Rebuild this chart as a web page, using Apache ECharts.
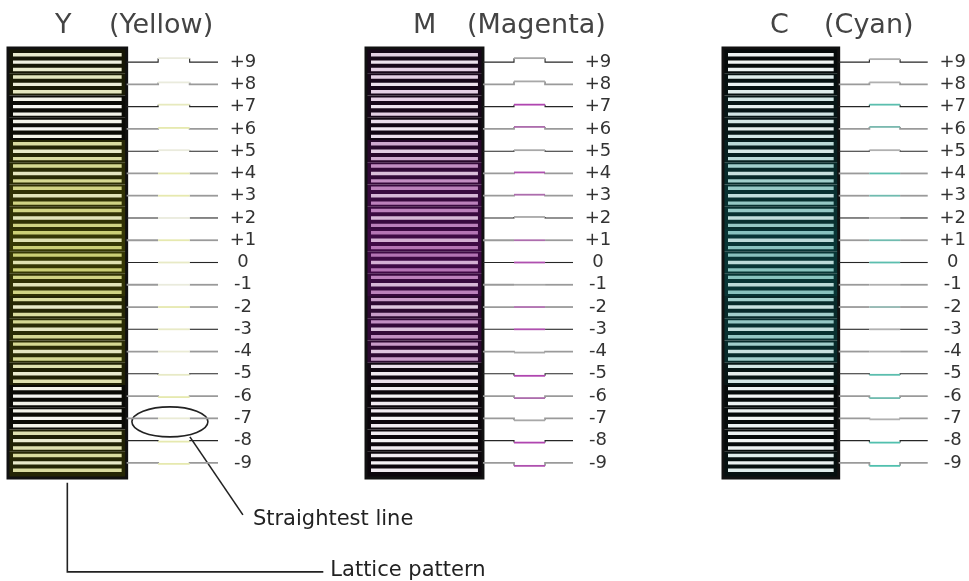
<!DOCTYPE html>
<html>
<head>
<meta charset="utf-8">
<title>Color registration chart</title>
<script src="https://cdn.jsdelivr.net/npm/echarts@6/dist/echarts.min.js"></script>
<style>
html,body{margin:0;padding:0;background:#fff;}
#main{width:969px;height:581px;}
</style>
</head>
<body>
<div id="main"></div>
<script>
// tick labels, top to bottom
var levels = ['+9','+8','+7','+6','+5','+4','+3','+2','+1','0','-1','-2','-3','-4','-5','-6','-7','-8','-9'];
var panelKeys = ['Y','M','C'];
var panelNames = ['(Yellow)','(Magenta)','(Cyan)'];

// ink strength seen in the lattice at each level (0 = black/white only)
var yLattice = [0.3,0.4,0.1,0.1,0.6,0.7,0.8,0.8,0.9,0.9,0.8,0.6,0.7,0.7,0.5,0.1,0.1,0.5,0.6];
var mLattice = [0.3,0.3,0.3,0.2,0.6,0.8,0.9,0.9,1.0,1.0,0.9,0.7,0.8,0.7,0.2,0.1,0.1,0.1,0.1];
var cLattice = [0.1,0.2,0.3,0.3,0.5,0.7,0.8,0.8,0.9,0.9,0.9,0.7,0.8,0.7,0.3,0.1,0.1,0.1,0.2];

// ink strength of the middle piece of each line
var yMidInk = [0.2,0.2,0.6,0.8,0.2,0.8,0.8,0.2,0.8,0.5,0.2,0.8,0.5,0.3,0.5,0.8,0.3,0.8,0.8];
var mMidInk = [0,0,1,0.6,0,0.9,0.6,0,0.6,0.9,0,0.6,0.9,0,1,0.6,0,1,0.9];
var cMidInk = [0,0,0.8,0.5,0,0.8,0.6,0,0.6,0.8,0,0.3,0,0,0.8,0.6,0,0.9,0.9];

// offset of the middle piece (dots, + = up)
var yShift = [4,2,2,1,1,0,0,0,0,0,0,0,0,0,-1,-1,0,-1,-1];
var mShift = [4,3,2,2,1,1,1,1,0,0,0,0,0,-1,-2,-2,-2,-2,-3];
var cShift = [3,2,2,2,1,0,0,0,0,0,0,0,0,0,-1,-2,-1,-2,-3];

// outer line tone (0 dark, 1 gray)
var lineTone = [0,1,0,1,0,1,1,0,1,0,1,1,0,1,0,1,1,0,1];

var straightestY = '-7';
var noteStraight = 'Straightest line';
var noteLattice = 'Lattice pattern';

var FONT = 'DejaVu Sans';
var LAT_END = 56.5, MID_START = 71.5, MID_END = 86.5;
var panelLeft = [8, 366, 723];
var panelWidth = [210, 207, 207];
var gridTop = 51, gridHeight = 423;

var inkStyle = [
    {light:'#c6ca66', dark:'#3a3c04', line:'#e4e8a0', neutral:'#ececec'},
    {light:'#b474b4', dark:'#3e0a44', line:'#b046b0', neutral:'#a8a8a8'},
    {light:'#7cbcb8', dark:'#083a3a', line:'#46c2ae', neutral:'#b0b0b0'}
];
var latticeSets = [yLattice, mLattice, cLattice];
var midSets = [yMidInk, mMidInk, cMidInk];
var shiftSets = [yShift, mShift, cShift];

function hexRgb(h){
    return [parseInt(h.substr(1,2),16), parseInt(h.substr(3,2),16), parseInt(h.substr(5,2),16)];
}
function mix(a, b, t){
    var x = hexRgb(a), y = hexRgb(b);
    return 'rgb(' + [0,1,2].map(function(k){ return Math.round(x[k] + (y[k]-x[k])*t); }).join(',') + ')';
}

// 网格图案
function latticeItem(ink){
    return function(params, api){
        var idx = api.value(1), t = api.value(2);
        var l = api.coord([0, idx]);
        var r = api.coord([LAT_END, idx]);
        var h = api.size([0, 1])[1];
        var top = l[1] - h/2;
        var w = r[0] - l[0];
        var dark = mix('#060606', ink.dark, t);
        var light = mix('#f8f8f8', ink.light, t);
        var extTop = idx === 0 ? 3 : 0;
        var extBot = idx === levels.length-1 ? 4 : 0;
        var children = [];
        children.push({type:'rect', shape:{x:l[0], y:top-extTop, width:w, height:h+extTop+extBot}, style:{fill:dark}});
        for (var s = 0; s < 3; s++){
            var sy = top + h*(s+0.5)/3 - 1.7;
            var c = s === 1 ? mix('#f8f8f8', ink.light, t*0.55) : light;
            children.push({type:'rect', shape:{x:l[0]+5, y:sy, width:w-10, height:3.4}, style:{fill:c}});
        }
        if (idx === levels.length-1){
            var first = api.coord([0, 0]);
            var y0 = first[1] - h/2 - 3;
            children.push({type:'rect', shape:{x:l[0], y:y0, width:w, height:l[1]+h/2+4-y0},
                style:{fill:null, stroke:'#111', lineWidth:3}});
        }
        return {type:'group', children:children};
    };
}

// 刻度线
function lineItem(ink){
    return function(params, api){
        var idx = api.value(1), shift = api.value(2), midInk = api.value(3), tone = api.value(4);
        var p0 = api.coord([LAT_END, idx]), p1 = api.coord([MID_START, idx]);
        var p2 = api.coord([MID_END, idx]), p3 = api.coord([100, idx]);
        var y = p0[1], ym = y - shift;
        var outer = tone ? '#9a9a9a' : '#262626';
        var lw = tone ? 1.8 : 1.1;
        var mid = mix(ink.neutral, ink.line, midInk);
        return {type:'group', children:[
            {type:'polyline', shape:{points:[[p0[0],y],[p1[0],y],[p1[0],ym]]}, style:{stroke:outer, lineWidth:lw, fill:null}},
            {type:'polyline', shape:{points:[[p2[0],ym],[p2[0],y],[p3[0],y]]}, style:{stroke:outer, lineWidth:lw, fill:null}},
            {type:'line', shape:{x1:p1[0], y1:ym, x2:p2[0], y2:ym}, style:{stroke:mid, lineWidth:1.8}}
        ]};
    };
}

var grids = [], xAxes = [], yAxes = [], series = [], graphics = [];
for (var k = 0; k < 3; k++){
    grids.push({left:panelLeft[k], top:gridTop, width:panelWidth[k], height:gridHeight});
    xAxes.push({gridIndex:k, type:'value', min:0, max:100, show:false});
    yAxes.push({
        gridIndex:k, type:'category', data:levels, inverse:true, position:'right',
        axisLine:{show:false}, axisTick:{show:false}, splitLine:{show:false},
        axisLabel:{interval:0, align:'center', margin:25, fontSize:18, fontFamily:FONT, color:'#333'}
    });
    var lat = latticeSets[k], mids = midSets[k], sh = shiftSets[k];
    series.push({
        type:'custom', xAxisIndex:k, yAxisIndex:k, clip:false, silent:true,
        renderItem:latticeItem(inkStyle[k]),
        data:levels.map(function(lv, i){ return [0, i, lat[i]]; })
    });
    series.push({
        type:'custom', xAxisIndex:k, yAxisIndex:k, clip:false, silent:true,
        renderItem:lineItem(inkStyle[k]),
        data:levels.map(function(lv, i){ return [0, i, sh[i], mids[i], lineTone[i]]; })
    });
    graphics.push({type:'text', left:panelLeft[k]+47, top:12, style:{text:panelKeys[k], font:'27px "'+FONT+'"', fill:'#444'}});
    graphics.push({type:'text', left:panelLeft[k]+101, top:12, style:{text:panelNames[k], font:'27px "'+FONT+'"', fill:'#444'}});
}

var chart = echarts.init(document.getElementById('main'));
chart.setOption({
    animation:false,
    backgroundColor:'#fff',
    grid:grids, xAxis:xAxes, yAxis:yAxes, series:series, graphic:graphics
});

// 注释
var gi = levels.indexOf(straightestY);
var ec = chart.convertToPixel({gridIndex:0}, [(MID_START+MID_END)/2, gi]);
var cx = ec[0] - 4, cy = ec[1] + 3.5;
var lb = chart.convertToPixel({gridIndex:0}, [LAT_END/2, levels.length-1]);
var noteFont = '21px "' + FONT + '"';
graphics.push(
    {type:'ellipse', shape:{cx:cx, cy:cy, rx:38, ry:15}, style:{fill:null, stroke:'#222', lineWidth:1.6}},
    {type:'line', shape:{x1:cx+20, y1:cy+15, x2:cx+73, y2:cy+93}, style:{stroke:'#222', lineWidth:1.6}},
    {type:'text', x:cx+83, y:cy+98, style:{text:noteStraight, font:noteFont, fill:'#222', textVerticalAlign:'middle'}},
    {type:'polyline', shape:{points:[[lb[0], lb[1]+20],[lb[0], lb[1]+109],[lb[0]+256, lb[1]+109]]}, style:{fill:null, stroke:'#222', lineWidth:1.6}},
    {type:'text', x:lb[0]+263, y:lb[1]+108, style:{text:noteLattice, font:noteFont, fill:'#222', textVerticalAlign:'middle'}}
);
chart.setOption({graphic:graphics});
</script>
</body>
</html>
